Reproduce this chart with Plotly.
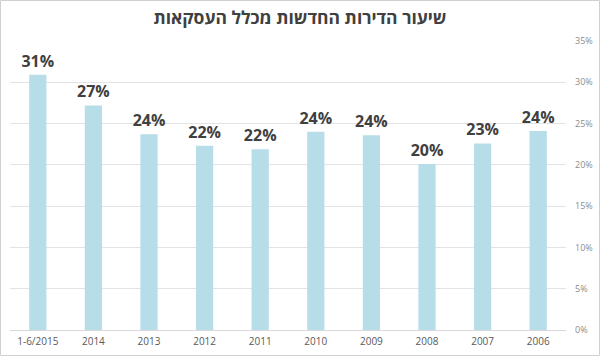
import plotly.graph_objects as go

categories = ["1-6/2015", "2014", "2013", "2012", "2011", "2010", "2009", "2008", "2007", "2006"]
values = [0.309, 0.272, 0.237, 0.223, 0.219, 0.240, 0.236, 0.201, 0.226, 0.241]
title_text = "שיעור הדירות החדשות מכלל העסקאות"

W, H = 600, 356
ml, mr, mt, mb = 10, 34, 41, 26
pw, ph = W - ml - mr, H - mt - mb

fig = go.Figure(go.Bar(
    x=categories, y=values,
    marker=dict(color="#b7dde8", line=dict(width=0)),
    texttemplate="%{y:.0%}", textposition="outside", cliponaxis=False,
    constraintext="none",
    textfont=dict(family="Open Sans, DejaVu Sans, sans-serif", size=16, color="#404040", weight="bold"),
    hoverinfo="skip",
))

fig.update_layout(
    width=W, height=H,
    margin=dict(l=ml, r=mr, t=mt, b=mb, autoexpand=False),
    paper_bgcolor="white", plot_bgcolor="white",
    bargap=0.69,
    showlegend=False,
    title=dict(text=title_text, x=0.5, xanchor="center", y=1 - 18 / H, yanchor="middle",
               font=dict(family="Open Sans, DejaVu Sans, sans-serif", size=17.5, color="#404040", weight="bold")),
    xaxis=dict(type="category", showgrid=False, showline=True, linecolor="#d9d9d9", linewidth=1,
               ticks="", tickfont=dict(family="Open Sans, Arial, sans-serif", size=10, color="#595959"),
               ticklabelstandoff=2, automargin=False),
    yaxis=dict(side="right", range=[0, 0.35], dtick=0.05, tickformat=".0%",
               showgrid=True, gridcolor="#e3e3e3", gridwidth=1, zeroline=False, showline=False,
               ticks="", tickfont=dict(family="Open Sans, Arial, sans-serif", size=9, color="#8c8c8c"),
               ticklabelstandoff=8, automargin=False),
    shapes=[dict(type="rect", xref="paper", yref="paper",
                 x0=(-ml + 0.5) / pw, x1=(pw + mr - 0.5) / pw,
                 y0=(-mb + 0.5) / ph, y1=(ph + mt - 0.5) / ph,
                 line=dict(color="#d0d0d0", width=1), layer="below")],
)

fig.write_html("out.html", config={"displayModeBar": False},
               post_script="document.body.style.margin='0';")
